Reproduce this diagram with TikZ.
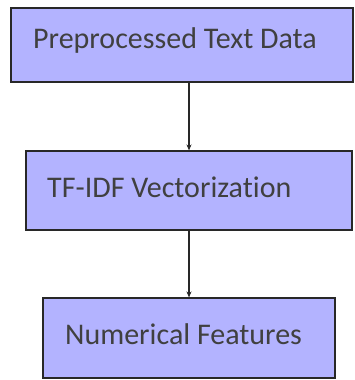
\documentclass[tikz,border=0pt]{standalone}
\usepackage{fontspec}
\setmainfont[Ligatures={NoCommon}]{Carlito}
\usetikzlibrary{arrows.meta}
\definecolor{boxfill}{RGB}{179,179,255}
\definecolor{boxline}{RGB}{40,40,40}
\definecolor{txt}{RGB}{64,64,64}
\tikzset{
  flowbox/.style={draw=boxline, fill=boxfill, line width=1.1pt, rectangle, inner sep=0pt},
  boxtext/.style={anchor=base west, inner sep=0pt, text=txt, font=\fontsize{30}{35}\selectfont},
  flowarrow/.style={draw=boxline, line width=1.2pt, -{Stealth[length=6pt,width=5pt]}}
}
\begin{document}
\begin{tikzpicture}[x=1pt,y=1pt]
\useasboundingbox (0,0) rectangle (355,380);
% boxes (y measured from bottom: 380 - pixel y)
\node[flowbox, minimum width=342pt, minimum height=74pt] (b1) at (182,335) {};
\node[flowbox, minimum width=326pt, minimum height=79pt] (b2) at (189,189.5) {};
\node[flowbox, minimum width=292pt, minimum height=80pt] (b3) at (189,42) {};
% texts
\node[boxtext] (t1) at (33,331.7) {Preprocessed Text Data};
\node[boxtext] (t2) at (47,182.8) {TF-IDF Vectorization};
\node[boxtext] (t3) at (65,35) {Numerical Features};
% connectors
\draw[flowarrow] (b1.south -| b2.north) -- (b2.north);
\draw[flowarrow] (b2.south) -- (b3.north);
\end{tikzpicture}
\end{document}
